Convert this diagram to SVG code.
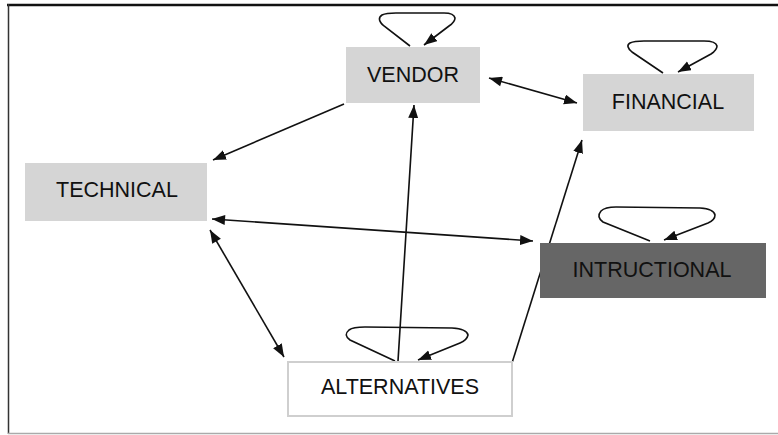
<svg xmlns="http://www.w3.org/2000/svg" width="778" height="435" viewBox="0 0 778 435">
  <style>
    .box { stroke: none; }
    .light { fill: #d5d5d5; }
    .dark { fill: #666666; }
    .plain { fill: #ffffff; stroke: #cfcfcf; stroke-width: 2; }
    .label { font-family: "Liberation Sans", Arial, sans-serif; font-size: 21.5px; fill: #111111; text-anchor: middle; dominant-baseline: central; }
    .edge { fill: none; stroke: #111111; stroke-width: 1.6; }
  </style>
  <defs>
    <marker id="arrow" markerUnits="userSpaceOnUse" markerWidth="14" markerHeight="11" refX="13" refY="5" orient="auto">
      <path d="M0,0 L13,5 L0,10 z" fill="#111111"/>
    </marker>
    <marker id="arrow-start" markerUnits="userSpaceOnUse" markerWidth="14" markerHeight="11" refX="0" refY="5" orient="auto">
      <path d="M13,0 L0,5 L13,10 z" fill="#111111"/>
    </marker>
  </defs>

  <rect width="778" height="435" fill="#ffffff"/>

  <!-- frame -->
  <g id="frame">
    <line x1="7" y1="5" x2="778" y2="5" stroke="#111111" stroke-width="2.5"/>
    <line x1="8.5" y1="4" x2="8.5" y2="434" stroke="#333333" stroke-width="1.5"/>
    <line x1="8" y1="433.5" x2="778" y2="433.5" stroke="#aaaaaa" stroke-width="1.5"/>
  </g>

  <g id="connectors">
    <!-- ALTERNATIVES to FINANCIAL, passing behind INTRUCTIONAL -->
    <line class="edge" x1="512" y1="363" x2="582" y2="140" marker-end="url(#arrow)"/>
    <!-- VENDOR to TECHNICAL -->
    <line class="edge" x1="344" y1="104" x2="213" y2="160" marker-end="url(#arrow)"/>
    <!-- VENDOR and FINANCIAL -->
    <line class="edge" x1="489" y1="78" x2="577" y2="103" marker-start="url(#arrow-start)" marker-end="url(#arrow)"/>
    <!-- TECHNICAL and INTRUCTIONAL -->
    <line class="edge" x1="212" y1="219" x2="533" y2="241" marker-start="url(#arrow-start)" marker-end="url(#arrow)"/>
    <!-- TECHNICAL and ALTERNATIVES -->
    <line class="edge" x1="210" y1="230" x2="284" y2="357" marker-start="url(#arrow-start)" marker-end="url(#arrow)"/>
    <!-- ALTERNATIVES to VENDOR -->
    <line class="edge" x1="398" y1="361" x2="414" y2="105" marker-end="url(#arrow)"/>
    <!-- self loops -->
    <path class="edge" d="M410,46 L384,26 Q376,19 382,15 Q386,13 396,13 L444,13 Q454,13 455,18 Q455,22 449,26 L424,45" marker-end="url(#arrow)"/>
    <path class="edge" d="M663,73 L632,52 Q625,46 630,43 Q634,41 644,41 L704,41 Q716,41 717,46 Q717,50 711,54 L678,72" marker-end="url(#arrow)"/>
    <path class="edge" d="M650,241 L603,222 Q596,217 601,211 Q605,207 616,207 L700,208 Q714,209 715,215 Q715,220 708,223 L664,240" marker-end="url(#arrow)"/>
    <path class="edge" d="M395,361 L350,340 Q343,335 349,330 Q353,327 365,327 L452,328 Q467,329 468,335 Q467,340 460,343 L418,360" marker-end="url(#arrow)"/>
  </g>

  <g id="vendor">
    <rect class="box light" x="346" y="47" width="134" height="56"/>
    <text class="label" x="413" y="75">VENDOR</text>
  </g>

  <g id="financial">
    <rect class="box light" x="583" y="74" width="171" height="57"/>
    <text class="label" x="668" y="102">FINANCIAL</text>
  </g>

  <g id="technical">
    <rect class="box light" x="25" y="163" width="182" height="58"/>
    <text class="label" x="117" y="190">TECHNICAL</text>
  </g>

  <g id="intructional">
    <rect class="box dark" x="540" y="243" width="226" height="55"/>
    <text class="label" x="652" y="270">INTRUCTIONAL</text>
  </g>

  <g id="alternatives">
    <rect class="plain" x="288" y="362" width="224" height="54"/>
    <text class="label" x="400" y="387">ALTERNATIVES</text>
  </g>
</svg>
